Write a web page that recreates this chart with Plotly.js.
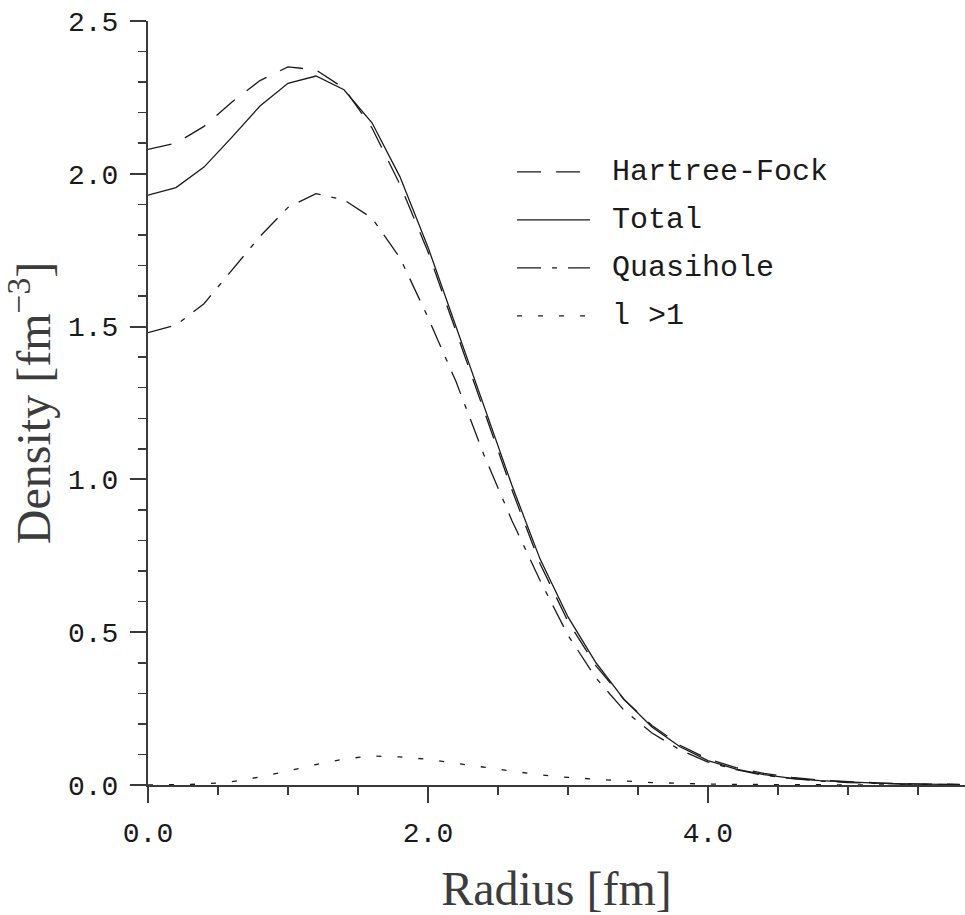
<!DOCTYPE html>
<html>
<head>
<meta charset="utf-8">
<script src="https://cdn.plot.ly/plotly-3.0.1.min.js"></script>
<style>
html,body{margin:0;padding:0;background:#ffffff;}
#chart{width:965px;height:915px;}
</style>
</head>
<body>
<div id="chart"></div>
<script>
// ---- data ----
const radius = [0.0, 0.2, 0.4, 0.6, 0.8, 1.0, 1.2, 1.4, 1.6, 1.8, 2.0, 2.2, 2.4, 2.6, 2.8, 3.0, 3.2, 3.4, 3.6, 3.8, 4.0, 4.2, 4.4, 4.6, 4.8, 5.0, 5.2, 5.4, 5.6, 5.8];
const hartreeFock = [2.08, 2.10, 2.155, 2.235, 2.305, 2.35, 2.34, 2.28, 2.15, 1.965, 1.745, 1.485, 1.225, 0.965, 0.725, 0.535, 0.39, 0.28, 0.195, 0.13, 0.085, 0.057, 0.038, 0.025, 0.016, 0.011, 0.007, 0.004, 0.003, 0.002];
const total = [1.93, 1.955, 2.022, 2.12, 2.222, 2.296, 2.32, 2.275, 2.167, 1.99, 1.76, 1.50, 1.24, 0.98, 0.74, 0.55, 0.40, 0.28, 0.19, 0.125, 0.08, 0.052, 0.034, 0.022, 0.014, 0.009, 0.006, 0.004, 0.0025, 0.0015];
const quasihole = [1.48, 1.505, 1.575, 1.685, 1.795, 1.89, 1.935, 1.915, 1.855, 1.725, 1.53, 1.32, 1.08, 0.865, 0.67, 0.49, 0.35, 0.245, 0.17, 0.115, 0.075, 0.05, 0.032, 0.021, 0.013, 0.008, 0.005, 0.003, 0.002, 0.001];
const lAbove1 = [0.0, 0.0005, 0.003, 0.011, 0.026, 0.046, 0.067, 0.085, 0.095, 0.092, 0.084, 0.071, 0.058, 0.045, 0.033, 0.025, 0.018, 0.013, 0.008, 0.005, 0.003, 0.002, 0.0012, 0.0007, 0.0004, 0.0002, 0.0001, 0.0001, 0.0, 0.0];
const seriesNames = ['Hartree-Fock', 'Total', 'Quasihole', 'l >1'];
const xTitle = 'Radius [fm]';
const yTitle = 'Density [fm<sup>−3</sup>]';

// ---- styles ----
const seriesValues = [hartreeFock, total, quasihole, lAbove1];
const dashes = ['24px,15px', 'solid', '24px,11px,5px,11px', '5px,16px'];
const ink = '#1a1a1a';
const axisInk = '#3a3a3a';
const titleInk = '#3c3c3c';

const traces = seriesValues.map((vals, i) => ({
  type: 'scatter',
  mode: 'lines',
  name: seriesNames[i],
  x: radius,
  y: vals,
  line: {color: ink, width: 1.3, dash: dashes[i]},
  showlegend: false,
  hoverinfo: 'skip'
}));

// hand-placed legend (long line samples as in the reference)
const legX0 = 0.4517, legX1 = 0.541, legTextX = 0.566;
const legY0 = 0.8024, legStep = 0.0628;
const shapes = seriesNames.map((n, i) => ({
  type: 'line', xref: 'paper', yref: 'paper',
  x0: legX0, x1: legX1, y0: legY0 - i * legStep, y1: legY0 - i * legStep,
  line: {color: ink, width: 1.3, dash: dashes[i]}
}));
const annotations = seriesNames.map((n, i) => ({
  xref: 'paper', yref: 'paper', x: legTextX, y: legY0 - i * legStep,
  xanchor: 'left', yanchor: 'middle', showarrow: false, text: n,
  font: {family: 'Liberation Mono, monospace', size: 30, color: ink}
}));

const layout = {
  width: 965, height: 915,
  margin: {l: 148, r: 0, t: 21, b: 130},
  paper_bgcolor: '#ffffff', plot_bgcolor: '#ffffff',
  showlegend: false,
  xaxis: {
    range: [0, 5.836], tick0: 0, dtick: 2, tickformat: '.1f',
    showline: true, linecolor: axisInk, linewidth: 2,
    ticks: 'outside', ticklen: 16, tickwidth: 2, tickcolor: axisInk,
    minor: {ticks: 'outside', dtick: 0.5, tick0: 0, ticklen: 8, tickwidth: 1.5, tickcolor: axisInk, showgrid: false},
    showgrid: false, zeroline: false,
    ticklabelstandoff: 5,
    tickfont: {family: 'Liberation Mono, monospace', size: 28, color: ink},
    title: {text: xTitle, standoff: 24, font: {family: 'Liberation Serif, serif', size: 48, color: titleInk}}
  },
  yaxis: {
    range: [0, 2.5], tick0: 0, dtick: 0.5, tickformat: '.1f',
    showline: true, linecolor: axisInk, linewidth: 2,
    ticks: 'outside', ticklen: 16, tickwidth: 2, tickcolor: axisInk,
    minor: {ticks: 'outside', dtick: 0.1, tick0: 0, ticklen: 8, tickwidth: 1.5, tickcolor: axisInk, showgrid: false},
    showgrid: false, zeroline: false,
    ticklabelstandoff: 6,
    tickfont: {family: 'Liberation Mono, monospace', size: 28, color: ink},
    title: {text: yTitle, standoff: 20, font: {family: 'Liberation Serif, serif', size: 48, color: titleInk}}
  },
  shapes: shapes,
  annotations: annotations
};

Plotly.newPlot('chart', traces, layout, {staticPlot: true, displayModeBar: false});
</script>
</body>
</html>
